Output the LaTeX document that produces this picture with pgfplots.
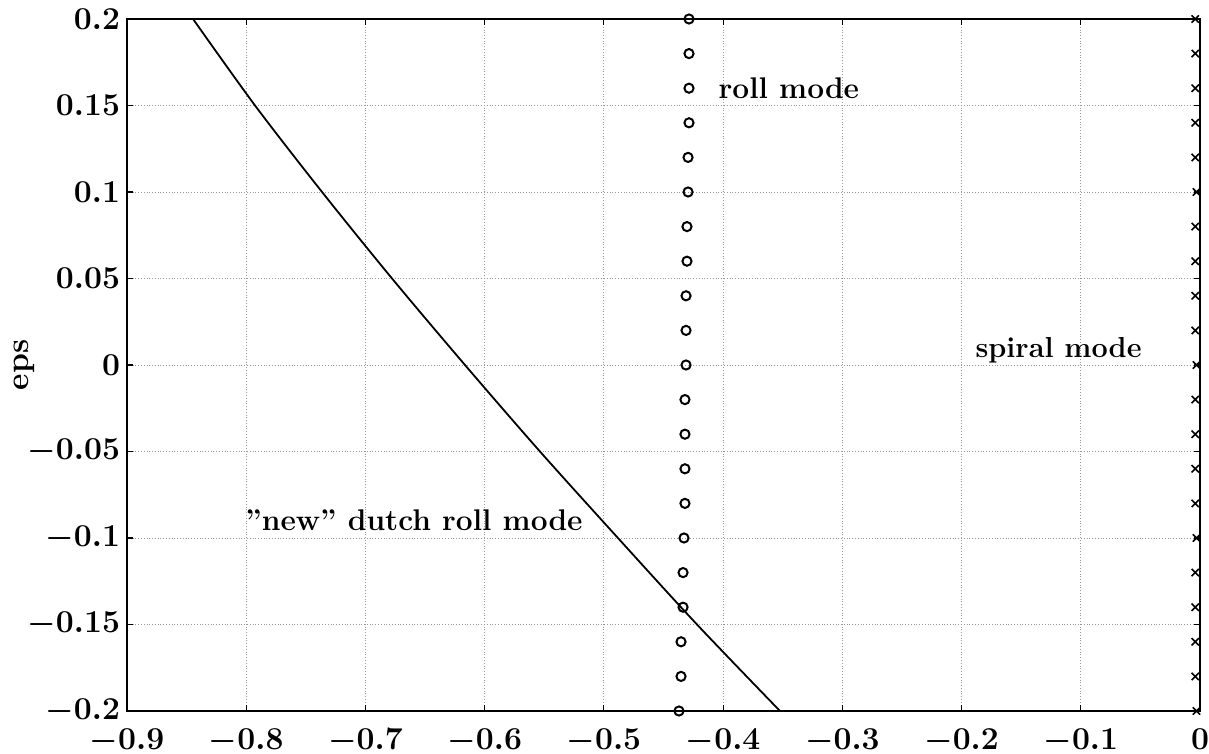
\documentclass[border=0pt]{standalone}
\usepackage{fix-cm}
\usepackage{pgfplots}
\pgfplotsset{compat=1.18}

\begin{document}
\begin{tikzpicture}
\begin{axis}[
  width=536.5bp, height=346bp, scale only axis,
  xmin=-0.9, xmax=0, ymin=-0.2, ymax=0.2,
  xtick={-0.9,-0.8,...,0}, ytick={-0.2,-0.15,...,0.2},
  xticklabels={$-0.9$,$-0.8$,$-0.7$,$-0.6$,$-0.5$,$-0.4$,$-0.3$,$-0.2$,$-0.1$,$0$},
  yticklabels={$-0.2$,$-0.15$,$-0.1$,$-0.05$,$0$,$0.05$,$0.1$,$0.15$,$0.2$},
  tick label style={font=\fontsize{16}{19}\selectfont\bfseries\boldmath},
  xticklabel style={yshift=-5.5bp},
  grid=major,
  major grid style={densely dotted, gray!80, line width=0.4pt},
  tick align=inside, tick pos=both,
  major tick length=3bp,
  axis line style={line width=1pt},
  every tick/.style={black, line width=0.6pt},
  clip=false,
]
% "new" dutch roll mode branch
\addplot[black, line width=0.9pt, smooth] coordinates {
  (-0.8446, 0.20)
  (-0.7926, 0.15)
  (-0.7364, 0.10)
  (-0.6777, 0.05)
  (-0.6165, 0.00)
  (-0.5536,-0.05)
  (-0.4882,-0.10)
  (-0.4219,-0.15)
  (-0.3523,-0.20)
};
% roll mode
\addplot[only marks, mark=o, mark size=2.3pt, mark options={line width=1pt}] coordinates {
  (-0.4286, 0.20) (-0.4286, 0.18) (-0.4286, 0.16) (-0.4286, 0.14)
  (-0.4294, 0.12) (-0.4294, 0.10) (-0.4303, 0.08) (-0.4303, 0.06)
  (-0.4311, 0.04) (-0.4311, 0.02) (-0.4311, 0.00) (-0.4320,-0.02)
  (-0.4320,-0.04) (-0.4320,-0.06) (-0.4320,-0.08) (-0.4328,-0.10)
  (-0.4336,-0.12) (-0.4336,-0.14) (-0.4353,-0.16) (-0.4353,-0.18)
  (-0.4370,-0.20)
};
% spiral mode
\addplot[only marks, mark=x, mark size=2.6pt, mark options={line width=0.8pt}] coordinates {
  (-0.004, 0.20) (-0.004, 0.18) (-0.004, 0.16) (-0.004, 0.14)
  (-0.004, 0.12) (-0.003, 0.10) (-0.004, 0.08) (-0.004, 0.06)
  (-0.004, 0.04) (-0.004, 0.02) (-0.003, 0.00) (-0.004,-0.02)
  (-0.004,-0.04) (-0.004,-0.06) (-0.004,-0.08) (-0.003,-0.10)
  (-0.004,-0.12) (-0.004,-0.14) (-0.004,-0.16) (-0.004,-0.18)
  (-0.003,-0.20)
};
\node[anchor=west, font=\fontsize{15}{18}\selectfont\bfseries, inner sep=0pt] at (axis cs:-0.404,0.160) {roll mode};
\node[anchor=west, font=\fontsize{14.5}{18}\selectfont\bfseries, inner sep=0pt] at (axis cs:-0.1886,0.0087) {spiral mode};
\node[anchor=west, font=\fontsize{15}{18}\selectfont\bfseries, inner sep=0pt] at (axis cs:-0.801,-0.0896) {''new'' dutch roll mode};
\coordinate (SW) at (rel axis cs:0,0);
\coordinate (NE) at (rel axis cs:1,1);
\coordinate (W) at (rel axis cs:0,0.5);
\end{axis}
\node[rotate=90, anchor=south, inner sep=0pt, font=\fontsize{16}{19}\selectfont\bfseries] at ([xshift=-46bp]W) {eps};
\pgfresetboundingbox
\path ([shift={(-63.5bp,-21.5bp)}]SW) rectangle ([shift={(4.5bp,9.5bp)}]NE);
\end{tikzpicture}
\end{document}
